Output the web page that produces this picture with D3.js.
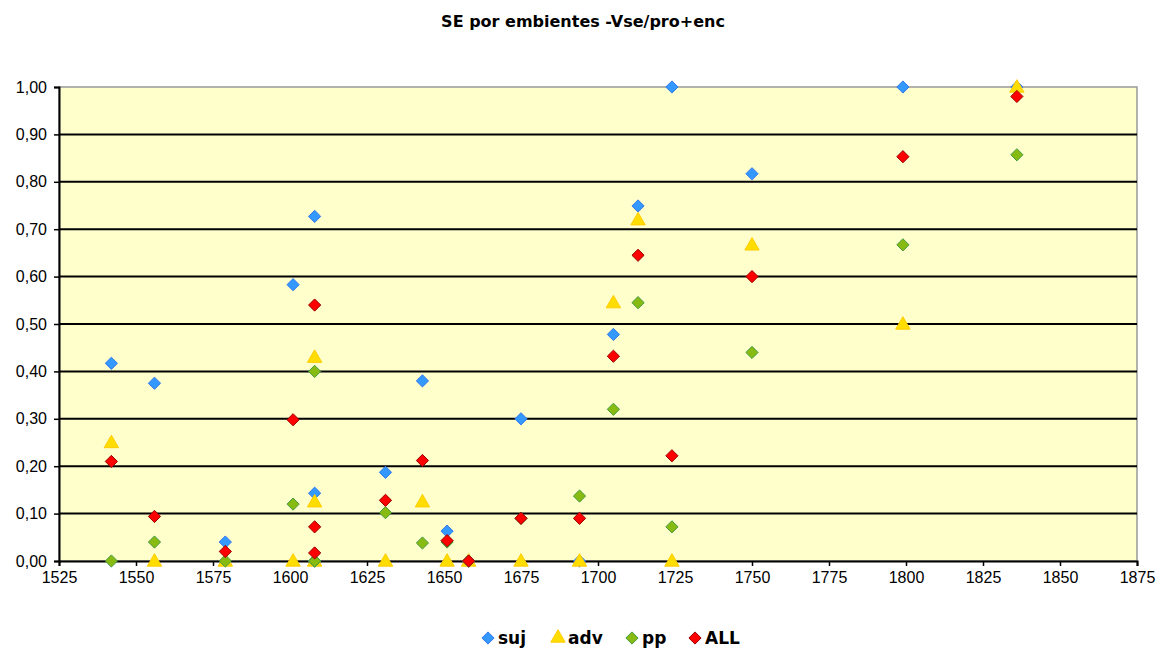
<!DOCTYPE html>
<html>
<head>
<meta charset="utf-8">
<script src="https://cdn.jsdelivr.net/npm/d3@7"></script>
<style>
  html, body { margin: 0; padding: 0; background: #fff; overflow: hidden; }
  svg { display: block; }
</style>
</head>
<body>
<div id="chart"></div>
<script>
// one entry per text (three texts share 1608)
const years = [1542, 1556, 1579, 1601, 1608, 1608, 1608, 1631, 1643, 1651, 1658, 1675, 1694, 1705, 1713, 1724, 1750, 1799, 1836];
const suj   = [0.417, 0.375, 0.04, 0.583, 0.727, 0.143, 0, 0.187, 0.38, 0.063, 0, 0.30, 0, 0.478, 0.749, 1.0, 0.817, 1.0, 1.0];
const adv   = [0.25, 0, 0, 0, 0.43, 0.125, 0, 0, 0.125, 0, 0, 0, 0, 0.545, 0.72, 0, 0.667, 0.5, 1.0];
const pp    = [0, 0.04, 0, 0.12, 0.40, 0, 0, 0.102, 0.038, 0.04, 0, 0.09, 0.137, 0.32, 0.545, 0.072, 0.44, 0.667, 0.857];
const all   = [0.21, 0.094, 0.02, 0.298, 0.54, 0.072, 0.017, 0.128, 0.212, 0.043, 0, 0.09, 0.09, 0.432, 0.645, 0.222, 0.60, 0.853, 0.98];

const xTicks = d3.range(1525, 1876, 25);
const yTicks = d3.range(0, 1.01, 0.1);

const series = [
    { name: "suj", values: suj, shape: "diamond", fill: "#3399ff", stroke: "#3377ee" },
    { name: "adv", values: adv, shape: "triangle", fill: "#ffdd00", stroke: "#ffcc00" },
    { name: "pp",  values: pp,  shape: "diamond", fill: "#88bb11", stroke: "#449944" },
    { name: "ALL", values: all, shape: "diamond", fill: "#ff0000", stroke: "#990000" }
];

const width = 1158, height = 648;
const margin = { top: 87, right: 21, bottom: 87, left: 59 };
const innerWidth = width - margin.left - margin.right;
const innerHeight = height - margin.top - margin.bottom;

const svg = d3.select("#chart").append("svg")
    .attr("width", width)
    .attr("height", height);

svg.append("text")
    .attr("x", 583)
    .attr("y", 27)
    .attr("text-anchor", "middle")
    .attr("font-family", "DejaVu Sans, sans-serif")
    .attr("font-weight", "bold")
    .attr("font-size", 16)
    .text("SE por embientes -Vse/pro+enc");

const g = svg.append("g")
    .attr("transform", `translate(${margin.left},${margin.top})`);

const x = d3.scaleLinear().domain([1525, 1875]).range([0, innerWidth]);
const y = d3.scaleLinear().domain([0, 1]).range([innerHeight, 0]);

// plot area
g.append("rect")
    .attr("width", innerWidth)
    .attr("height", innerHeight)
    .attr("fill", "#ffffcc")
    .attr("stroke", "#999")
    .attr("stroke-width", 1.5);

// gridlines
g.selectAll(".grid")
    .data(yTicks.slice(1, -1))
    .enter().append("line")
    .attr("class", "grid")
    .attr("x1", 0)
    .attr("x2", innerWidth)
    .attr("y1", d => y(d))
    .attr("y2", d => y(d))
    .attr("stroke", "#000")
    .attr("stroke-width", 2);

// axes
const yAxis = g.append("g")
    .attr("font-family", "Liberation Sans, Arial, sans-serif")
    .attr("font-size", 16)
    .call(d3.axisLeft(y).tickValues(yTicks).tickSize(5).tickPadding(7)
        .tickFormat(d => d3.format(".2f")(d).replace(".", ",")));
const xAxis = g.append("g")
    .attr("transform", `translate(0,${innerHeight})`)
    .call(d3.axisBottom(x).tickValues(xTicks).tickSize(5).tickPadding(6)
        .tickFormat(d3.format("d")))
    .attr("font-family", "Liberation Sans, Arial, sans-serif")
    .attr("font-size", 16);
yAxis.attr("font-family", "Liberation Sans, Arial, sans-serif").attr("font-size", 16);

[xAxis, yAxis].forEach(a => {
    a.select(".domain").attr("stroke", "#000").attr("stroke-width", 2);
    a.selectAll(".tick line").attr("stroke", "#000").attr("stroke-width", 1.5);
    a.selectAll("text").attr("fill", "#000");
});

const diamond = d3.symbol().type(d3.symbolDiamond2).size(95);
const triangle = d3.symbol().type(d3.symbolTriangle).size(90);

function shapePath(s) {
    return s.shape === "triangle" ? triangle() : diamond();
}

series.forEach(s => {
    g.append("g")
        .selectAll("path")
        .data(s.values.map((v, i) => ({ year: years[i], value: v })))
        .enter().append("path")
        .attr("d", shapePath(s))
        .attr("transform", d => `translate(${x(d.year)},${y(d.value) + (s.shape === "triangle" ? 1 : 0)})`)
        .attr("fill", s.fill)
        .attr("stroke", s.stroke)
        .attr("stroke-width", 1);
});

// legend
const legendX = [488, 558, 632, 695];
const legend = svg.append("g").attr("transform", "translate(0,638)");
series.forEach((s, i) => {
    const item = legend.append("g").attr("transform", `translate(${legendX[i]},0)`);
    item.append("path")
        .attr("d", shapePath(s))
        .attr("fill", s.fill)
        .attr("stroke", s.stroke);
    item.append("text")
        .attr("x", 10)
        .attr("dy", "0.35em")
        .attr("font-family", "DejaVu Sans, sans-serif")
        .attr("font-weight", "bold")
        .attr("font-size", 17)
        .text(s.name);
});
</script>
</body>
</html>
